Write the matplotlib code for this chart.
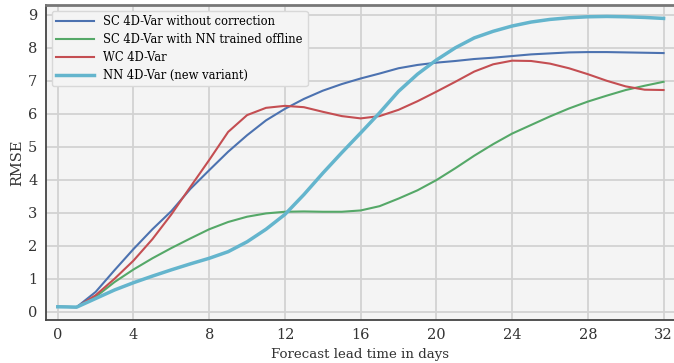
import numpy as np
import matplotlib.pyplot as plt

# Values, one point per forecast day.

days = np.arange(0, 33)

sc_no_corr = [0.15, 0.14, 0.6, 1.26, 1.9, 2.5, 3.05, 3.72, 4.29, 4.85, 5.35, 5.8, 6.15, 6.45, 6.7, 6.9,
              7.07, 7.22, 7.38, 7.48, 7.55, 7.6, 7.66, 7.7, 7.75, 7.8, 7.83, 7.86, 7.87, 7.87, 7.86, 7.85, 7.84]
sc_nn_offline = [0.15, 0.14, 0.45, 0.9, 1.28, 1.62, 1.93, 2.22, 2.5, 2.72, 2.88, 2.98, 3.03, 3.04, 3.03, 3.03,
                 3.07, 3.2, 3.43, 3.68, 3.99, 4.35, 4.73, 5.08, 5.4, 5.66, 5.92, 6.16, 6.37, 6.55, 6.72, 6.85, 6.97]
wc_4dvar = [0.15, 0.14, 0.5, 1.0, 1.55, 2.2, 2.95, 3.78, 4.6, 5.45, 5.96, 6.18, 6.24, 6.2, 6.06, 5.93,
            5.86, 5.93, 6.12, 6.38, 6.67, 6.97, 7.28, 7.5, 7.61, 7.6, 7.52, 7.38, 7.2, 7.0, 6.83, 6.73, 6.72]
nn_4dvar = [0.15, 0.14, 0.4, 0.66, 0.88, 1.08, 1.27, 1.45, 1.62, 1.82, 2.12, 2.5, 2.95, 3.55, 4.2, 4.82,
            5.42, 6.03, 6.68, 7.2, 7.63, 8.0, 8.3, 8.5, 8.66, 8.78, 8.86, 8.91, 8.94, 8.95, 8.94, 8.92, 8.89]

labels = ["SC 4D-Var without correction", "SC 4D-Var with NN trained offline",
          "WC 4D-Var", "NN 4D-Var (new variant)"]

plt.rcParams['font.family'] = 'DejaVu Serif'

fig = plt.figure(figsize=(6.74, 3.63), dpi=100)
ax = fig.add_axes([0.068, 0.1185, 0.932, 0.868])
ax.set_facecolor('#f4f4f4')

ax.plot(days, sc_no_corr, color='#4c72b0', lw=1.5, label=labels[0])
ax.plot(days, sc_nn_offline, color='#55a868', lw=1.5, label=labels[1])
ax.plot(days, wc_4dvar, color='#c44e52', lw=1.5, label=labels[2])
ax.plot(days, nn_4dvar, color='#64b5cd', lw=2.5, label=labels[3])

ax.set_xlim(-0.63, 32.55)
ax.set_ylim(-0.25, 9.3)
ax.set_xticks(range(0, 33, 4))
ax.set_yticks(range(0, 10))
ax.grid(True, color='#d2d2d2', lw=1.3)
ax.set_axisbelow(True)
ax.tick_params(length=0, labelsize=10.5, labelcolor='#333333', pad=6)

for s in ['left', 'bottom']:
    ax.spines[s].set_color('#444444')
    ax.spines[s].set_linewidth(1.3)
ax.spines['top'].set_color('#777777')
ax.spines['top'].set_linewidth(2)
ax.spines['right'].set_visible(False)

ax.set_xlabel("Forecast lead time in days", fontsize=9.6, color='#333333', labelpad=4)
ax.set_ylabel("RMSE", fontsize=10.5, color='#333333', labelpad=3)

leg = ax.legend(loc='upper left', fontsize=8.3, frameon=True, facecolor='#f4f4f4',
                edgecolor='#d8d8d8', handlelength=3.3, borderaxespad=0.5, labelspacing=0.42)
leg.get_frame().set_alpha(1)

fig.savefig('out.png', dpi=100)
